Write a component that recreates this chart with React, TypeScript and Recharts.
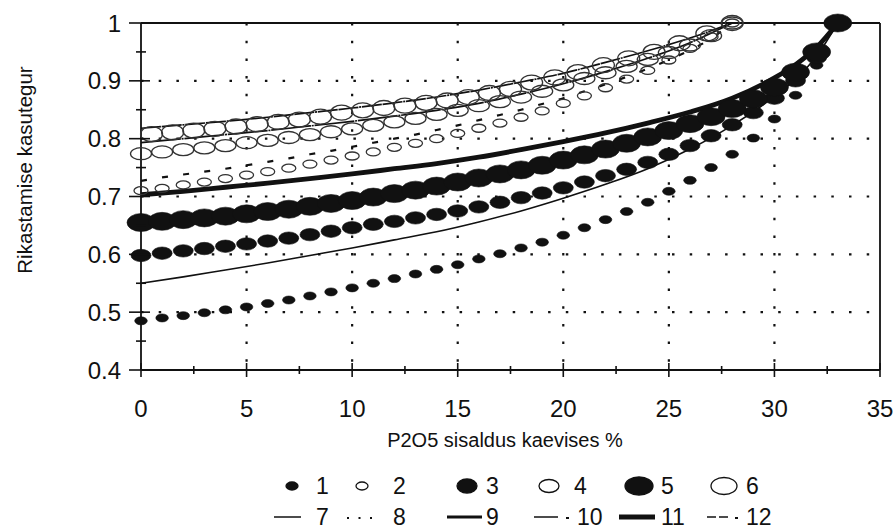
import React from 'react';
import { ComposedChart, Line, Scatter, XAxis, YAxis, CartesianGrid, ReferenceLine } from 'recharts';

const INK = '#111111';
const FONT = '"Liberation Sans", Arial, Helvetica, sans-serif';

// ---- data ----
const X_0_33 = [0,1,2,3,4,5,6,7,8,9,10,11,12,13,14,15,16,17,18,19,20,21,22,23,24,25,26,27,28,29,30,31,32,33];
const X_0_28 = [0,1,2,3,4,5,6,7,8,9,10,11,12,13,14,15,16,17,18,19,20,21,22,23,24,25,26,27,28];

const S1_Y = [0.485,0.49,0.494,0.499,0.504,0.509,0.515,0.521,0.528,0.535,0.542,0.55,0.558,0.566,0.574,0.582,0.592,0.601,0.611,0.621,0.633,0.646,0.66,0.674,0.69,0.709,0.728,0.75,0.773,0.801,0.834,0.875,0.927,1.0];
const S3_Y = [0.598,0.602,0.606,0.61,0.614,0.618,0.623,0.628,0.634,0.64,0.646,0.652,0.657,0.663,0.669,0.675,0.682,0.69,0.698,0.706,0.715,0.725,0.736,0.747,0.759,0.773,0.788,0.805,0.824,0.845,0.87,0.9,0.94,1.0];
const S5_Y = [0.655,0.657,0.66,0.663,0.666,0.67,0.674,0.678,0.683,0.688,0.693,0.699,0.705,0.711,0.718,0.725,0.732,0.739,0.746,0.754,0.763,0.772,0.782,0.792,0.803,0.814,0.826,0.838,0.852,0.869,0.889,0.915,0.95,1.0];

const S2_Y = [0.71,0.714,0.72,0.725,0.731,0.737,0.743,0.749,0.756,0.763,0.77,0.777,0.785,0.792,0.8,0.809,0.818,0.827,0.837,0.848,0.861,0.874,0.888,0.903,0.918,0.936,0.956,0.976,1.0];
const S4_Y = [0.774,0.777,0.781,0.784,0.788,0.793,0.797,0.802,0.807,0.812,0.817,0.823,0.829,0.835,0.842,0.849,0.857,0.864,0.872,0.882,0.893,0.904,0.914,0.925,0.937,0.949,0.962,0.978,1.0];
const S6_X = [0.5,1.5,2.5,3.5,4.5,5.5,6.5,7.5,8.5,9.5,10.5,11.5,12.5,13.5,14.5,15.5,16.5,17.5,18.5,19.6,20.7,21.9,23.1,24.3,25.5,26.8,28];
const S6_Y = [0.808,0.811,0.814,0.817,0.821,0.825,0.829,0.833,0.838,0.845,0.849,0.853,0.857,0.862,0.866,0.872,0.879,0.886,0.897,0.906,0.915,0.927,0.939,0.95,0.965,0.982,1.0];

const L_FILLED_X = [0,2,4,6,8,10,12,14,16,18,20,22,24,26,28,30,31,32,33];
const L7_Y = [0.55,0.561,0.573,0.585,0.598,0.611,0.625,0.639,0.656,0.675,0.697,0.721,0.748,0.782,0.823,0.873,0.903,0.943,1.0];
const L9_Y = [0.703,0.709,0.716,0.723,0.731,0.739,0.748,0.757,0.768,0.781,0.795,0.81,0.827,0.846,0.87,0.905,0.928,0.958,1.0];
const L11_Y = [0.703,0.709,0.716,0.723,0.731,0.739,0.748,0.757,0.768,0.781,0.795,0.81,0.827,0.846,0.87,0.905,0.928,0.958,1.0];

const L8_Y = [0.727,0.733,0.738,0.743,0.748,0.754,0.76,0.766,0.773,0.779,0.786,0.793,0.8,0.807,0.815,0.823,0.832,0.841,0.85,0.86,0.87,0.882,0.894,0.907,0.921,0.936,0.953,0.973,1.0];
const L_OPEN_X = [0,2,4,6,8,10,12,14,16,18,20,22,24,26,28];
const L10_Y = [0.793,0.8,0.807,0.814,0.822,0.83,0.839,0.849,0.861,0.877,0.895,0.916,0.939,0.966,1.0];
const L12_Y = [0.818,0.824,0.83,0.837,0.845,0.853,0.862,0.872,0.884,0.898,0.913,0.932,0.952,0.974,1.0];

const X_TICKS = [0,2.5,5,7.5,10,12.5,15,17.5,20,22.5,25,27.5,30,32.5,35];
const Y_TICKS = [0.4,0.45,0.5,0.55,0.6,0.65,0.7,0.75,0.8,0.85,0.9,0.95,1.0];
const GRID_X = [5,10,15,20,25,30];
const GRID_Y = [0.5,0.6,0.7,0.8,0.9];

const X_TITLE = 'P2O5 sisaldus kaevises %';
const Y_TITLE = 'Rikastamise kasutegur';

const zip = (xs: number[], ys: number[]) => xs.map((x, i) => ({ x, y: ys[i] }));

const ell = (rx: number, ry: number, filled: boolean) => (p: any) => (
  <ellipse cx={p.cx} cy={p.cy} rx={rx} ry={ry}
    fill={filled ? INK : 'none'} stroke={filled ? INK : '#333'} strokeWidth={filled ? 0.6 : 1.3} />
);

const XTick = (p: any) => {
  const { x, y, payload } = p;
  const v = payload.value;
  const major = Math.abs(v / 5 - Math.round(v / 5)) < 1e-6;
  const h = major ? 7 : 4;
  return (
    <g>
      <line x1={x} x2={x} y1={y - h} y2={y + h} stroke={INK} strokeWidth={1.6} />
      {major && (
        <text x={x} y={y + 47} textAnchor="middle" fontSize={24} fill={INK} fontFamily={FONT}>{v}</text>
      )}
    </g>
  );
};

const YTick = (p: any) => {
  const { x, y, payload } = p;
  const v = payload.value;
  const major = Math.abs(v * 10 - Math.round(v * 10)) < 1e-6;
  return (
    <g>
      <line x1={major ? x - 12 : x - 5} x2={major ? x + 9 : x + 5} y1={y} y2={y} stroke={INK} strokeWidth={1.6} />
      {major && (
        <text x={x - 20} y={y} dy="0.36em" textAnchor="end" fontSize={24} fill={INK} fontFamily={FONT}>
          {Math.abs(v - 1) < 1e-6 ? '1' : v.toFixed(1)}
        </text>
      )}
    </g>
  );
};

const LegendRow1 = [
  { label: '1', gx: 292, tx: 316, rx: 6, ry: 4, filled: true },
  { label: '2', gx: 362, tx: 393, rx: 6, ry: 4, filled: false },
  { label: '3', gx: 467, tx: 486, rx: 10, ry: 7, filled: true },
  { label: '4', gx: 549, tx: 574, rx: 10, ry: 6.5, filled: false },
  { label: '5', gx: 639, tx: 661, rx: 14, ry: 9, filled: true },
  { label: '6', gx: 724, tx: 746, rx: 13, ry: 8.5, filled: false },
];

export default function App() {
  return (
    <div style={{ position: 'absolute', left: 0, top: 0, width: 893, height: 532, background: '#fff' }}>
      <ComposedChart width={893} height={532} data={[]}
        margin={{ top: 23, right: 13, left: 81, bottom: 132 }}>
        <CartesianGrid horizontalValues={GRID_Y} verticalValues={GRID_X}
          stroke={INK} strokeWidth={2.2} strokeDasharray="2.5 15.2" />
        <XAxis dataKey="x" type="number" domain={[0, 35]} ticks={X_TICKS} interval={0}
          height={30} tickSize={0} tickMargin={0} tickLine={false} tick={<XTick />}
          axisLine={{ stroke: INK, strokeWidth: 1.8 }} allowDecimals />
        <YAxis dataKey="y" type="number" domain={[0.4, 1]} ticks={Y_TICKS} interval={0}
          width={60} tickSize={0} tickMargin={0} tickLine={false} tick={<YTick />}
          axisLine={{ stroke: INK, strokeWidth: 1.8 }} />
        <ReferenceLine y={1} stroke={INK} strokeWidth={1.8} />
        <ReferenceLine x={35} stroke={INK} strokeWidth={1.8} />

        <Line data={zip(L_FILLED_X, L7_Y)} dataKey="y" type="monotone" stroke={INK} strokeWidth={1.6} dot={false} isAnimationActive={false} />
        <Line data={zip(L_FILLED_X, L9_Y)} dataKey="y" type="monotone" stroke={INK} strokeWidth={3} dot={false} isAnimationActive={false} />
        <Line data={zip(L_FILLED_X, L11_Y)} dataKey="y" type="monotone" stroke={INK} strokeWidth={4.8} dot={false} isAnimationActive={false} />
        <Line data={zip(X_0_28, L8_Y)} dataKey="y" type="monotone" stroke={INK} strokeWidth={2.2} strokeDasharray="6 15.3" dot={false} isAnimationActive={false} />
        <Line data={zip(L_OPEN_X, L10_Y)} dataKey="y" type="monotone" stroke={INK} strokeWidth={1.7} strokeDasharray="40 0.8 2 0.8" dot={false} isAnimationActive={false} />
        <Line data={zip(L_OPEN_X, L12_Y)} dataKey="y" type="monotone" stroke={INK} strokeWidth={1.7} strokeDasharray="20 0.8 20 0.8 2 0.8" dot={false} isAnimationActive={false} />

        <Scatter data={zip(X_0_33, S1_Y)} shape={ell(6.3, 4, true)} isAnimationActive={false} />
        <Scatter data={zip(X_0_33, S3_Y)} shape={ell(10, 6.2, true)} isAnimationActive={false} />
        <Scatter data={zip(X_0_33, S5_Y)} shape={ell(14, 9, true)} isAnimationActive={false} />
        <Scatter data={zip(X_0_28, S2_Y)} shape={ell(7, 4, false)} isAnimationActive={false} />
        <Scatter data={zip(X_0_28, S4_Y)} shape={ell(10.5, 6, false)} isAnimationActive={false} />
        <Scatter data={zip(S6_X, S6_Y)} shape={ell(11, 7.5, false)} isAnimationActive={false} />
      </ComposedChart>

      <svg width={893} height={532} style={{ position: 'absolute', left: 0, top: 0, pointerEvents: 'none' }}>
        <text x={505} y={447} textAnchor="middle" fontSize={20} fill={INK} fontFamily={FONT}>{X_TITLE}</text>
        <text transform="translate(32,170) rotate(-90)" textAnchor="middle" fontSize={20.5} fill={INK} fontFamily={FONT}>{Y_TITLE}</text>

        {LegendRow1.map((it) => (
          <g key={it.label}>
            <ellipse cx={it.gx} cy={486} rx={it.rx} ry={it.ry} fill={it.filled ? INK : 'none'} stroke={INK} strokeWidth={1.3} />
            <text x={it.tx} y={494} fontSize={23} fill={INK} fontFamily={FONT}>{it.label}</text>
          </g>
        ))}

        <line x1={274} x2={301} y1={517} y2={517} stroke={INK} strokeWidth={1.5} />
        <text x={316} y={525} fontSize={23} fill={INK} fontFamily={FONT}>7</text>
        <line x1={347} x2={372} y1={518} y2={518} stroke={INK} strokeWidth={2} strokeDasharray="2 9.5" />
        <text x={393} y={525} fontSize={23} fill={INK} fontFamily={FONT}>8</text>
        <line x1={447} x2={482} y1={517} y2={517} stroke={INK} strokeWidth={3} />
        <text x={486} y={525} fontSize={23} fill={INK} fontFamily={FONT}>9</text>
        <line x1={534} x2={558} y1={517} y2={517} stroke={INK} strokeWidth={1.5} />
        <line x1={566} x2={569} y1={518} y2={518} stroke={INK} strokeWidth={2} />
        <text x={577} y={525} fontSize={23} fill={INK} fontFamily={FONT}>10</text>
        <line x1={619} x2={655} y1={517} y2={517} stroke={INK} strokeWidth={5} />
        <text x={661} y={525} fontSize={23} fill={INK} fontFamily={FONT}>11</text>
        <line x1={707} x2={716} y1={517} y2={517} stroke={INK} strokeWidth={1.5} />
        <line x1={719} x2={728} y1={517} y2={517} stroke={INK} strokeWidth={1.5} />
        <line x1={735} x2={738} y1={518} y2={518} stroke={INK} strokeWidth={2} />
        <text x={746} y={525} fontSize={23} fill={INK} fontFamily={FONT}>12</text>
      </svg>
    </div>
  );
}
